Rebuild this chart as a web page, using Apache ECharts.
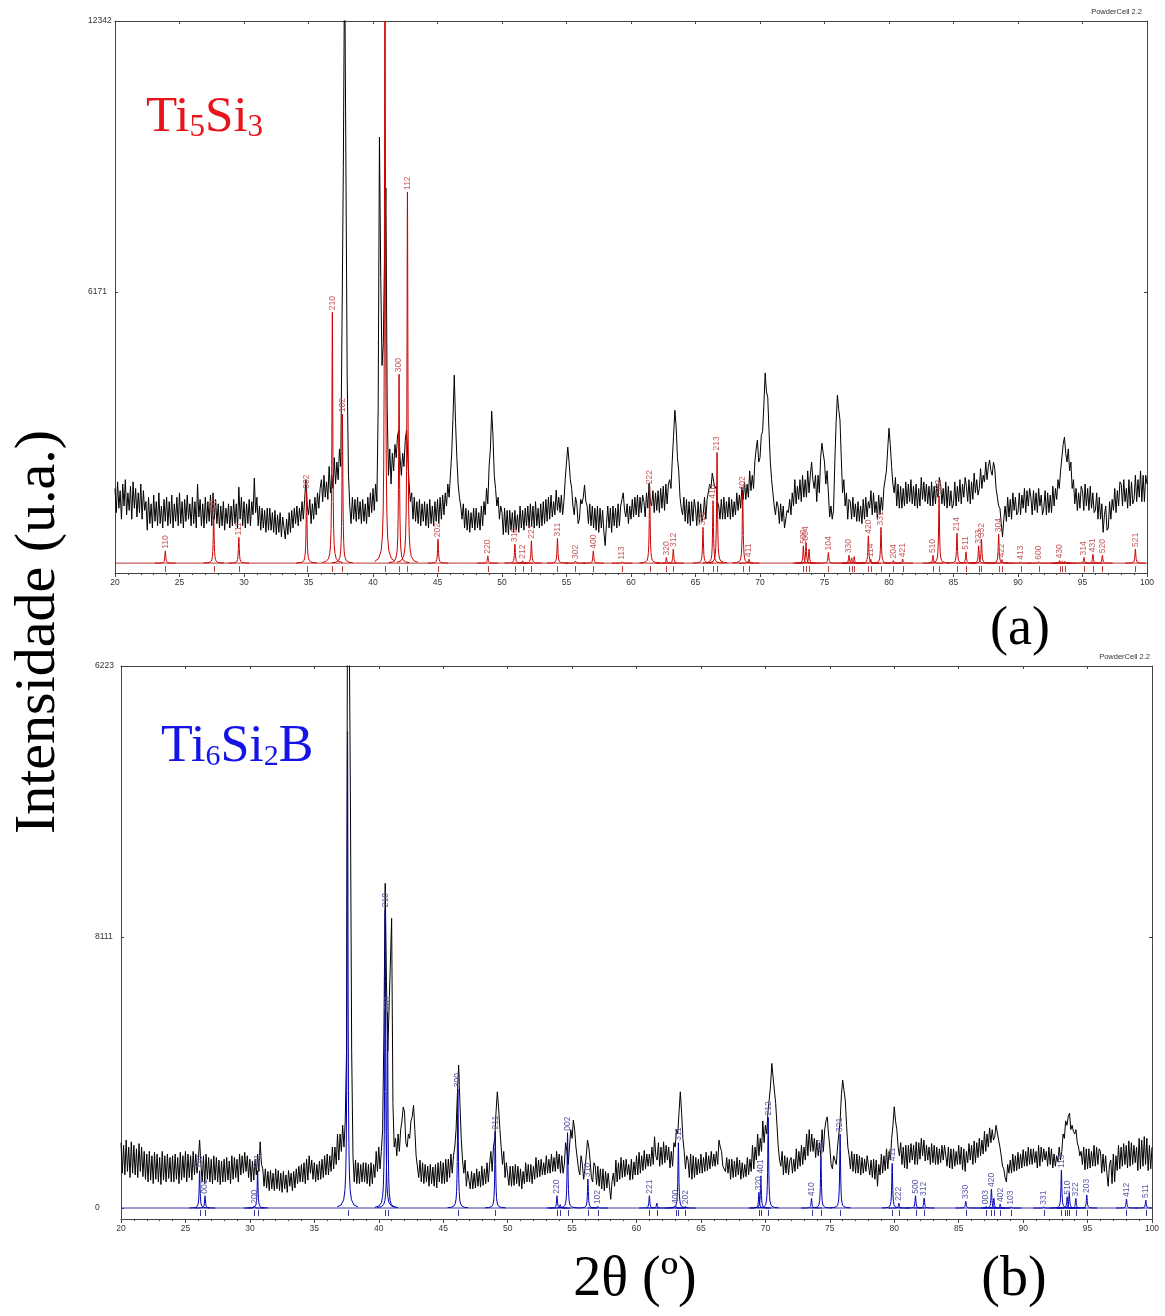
<!DOCTYPE html>
<html><head><meta charset="utf-8">
<script src="https://cdn.jsdelivr.net/npm/echarts@6/dist/echarts.min.js"></script>
<style>html,body{margin:0;padding:0;background:#fff}#c{width:1165px;height:1316px}</style>
</head><body><div id="c"></div>
<script>
// 2-theta sampling grid of the measured patterns
const xStart = 20, xStep = 0.1;

// (a) measured pattern, Ti5Si3 sample (counts), 20.0 .. 100.0 step 0.1
const expA = [
1700,1150,1850,1250,1650,1000,1800,1300,1900,1100,1600,1200,1750,1000,1850,1250,1700,1050,1600,1150,1800,1000,1650,1200,1400,750,1500,900,1350,800,1550,950,1400,850,1600,900,1300,800,1450,950,
1500,850,1400,900,1550,800,1350,950,1500,850,1600,900,1400,800,1450,950,1550,1000,1350,850,1500,900,1400,800,1800,1050,1450,850,1350,800,1500,900,1400,950,1550,850,1600,1000,1450,900,
1350,800,1300,850,1400,750,1250,900,1350,800,1300,850,1450,900,1350,800,1730,1000,1500,850,1400,800,1350,900,1450,850,1400,1100,1935,1150,1500,850,1300,750,1250,800,1200,700,1250,750,
1250,750,1150,700,1200,650,1100,700,1150,600,1050,800,550,1000,650,1150,700,1200,800,1250,900,1300,850,1250,950,1400,1000,1450,1900,1300,1100,1450,900,1350,1000,1500,1100,1600,1250,1700,
1900,1400,2000,1500,1850,1450,2200,1600,2000,1700,2400,1800,2300,1900,2600,2200,5500,9000,14000,14000,4200,2000,1300,900,1500,1000,1450,950,1500,1000,1400,900,1450,950,1350,900,1500,1050,1600,1150,
1700,1200,1800,1400,3500,9700,6500,4500,5000,7000,8540,3500,2000,2600,1800,2500,2100,2700,2400,2900,3030,2400,2000,2500,2200,2800,3030,2400,1800,1400,1600,1000,1500,950,1400,900,1450,850,1350,950,
1400,850,1350,800,1450,900,1300,850,1400,950,1450,900,1500,1000,1550,1100,1600,1300,1800,1500,2000,2500,3300,4280,3200,2400,1800,1500,1300,1000,1350,800,1250,750,1200,700,1150,800,1250,750,
1250,800,1150,750,1300,850,1400,1100,1700,1350,2200,2600,3460,2900,2000,1700,1300,1500,1000,1300,1150,650,1250,700,1200,650,1200,750,1150,700,1200,750,1100,700,1300,800,1200,750,1250,850,
1300,800,1350,850,1300,800,1400,850,1250,800,1350,850,1400,900,1450,950,1500,1000,1550,1050,1400,1100,1660,1200,1500,1150,1550,1100,1400,1900,2300,2640,2300,1900,1700,1300,1100,1500,1350,900,
1000,1450,1350,1500,1780,1400,1300,900,1350,850,1300,800,1250,750,1300,700,1250,800,1200,700,400,900,1300,800,1250,700,1300,850,1250,800,1350,850,1300,1450,1600,1200,1050,1350,900,1300,
1000,1450,1050,1500,1100,1550,1050,1500,1150,1550,1400,1050,1600,1250,1820,1400,1300,1650,1150,1600,1200,1650,1150,1700,1250,1750,1200,1800,1350,1800,1900,1700,2345,2900,3480,3100,2400,2100,1500,1250,
1100,1500,950,1450,900,1400,850,1400,950,1450,1250,850,1400,900,1350,950,1100,1500,1000,1450,1450,1800,1700,2050,2050,1700,1750,1400,1300,1000,1450,1000,1500,1000,1400,1050,1500,1000,1450,1050,
1400,1100,1600,1200,1550,1250,1730,1450,1850,1450,1800,1500,2100,1650,2000,1700,2300,2600,2800,2300,2400,2900,3000,3600,4330,3900,3780,3000,2300,1900,1600,1300,1100,1400,1300,900,1350,950,1300,800,
800,1200,1150,1450,1100,1600,1300,1900,1350,1750,1450,1900,1400,2000,1500,1900,1500,2100,1600,2000,2300,1900,1700,2000,1400,2000,1600,2400,2730,2500,2300,1800,2100,1600,1050,1300,1000,1200,2300,3200,
3825,3500,3260,2400,1600,1900,1300,1600,1000,1450,1400,1000,1500,1050,1350,950,1400,950,1300,900,1450,1000,1500,1050,1400,1250,1650,1100,1600,1150,1400,1000,1550,1100,1500,1200,1700,1900,2100,2600,
3070,2700,2200,1800,1600,1950,1300,1800,1250,1750,1250,1700,1300,1850,1350,1800,1400,1900,1350,1750,1300,1800,1250,1700,1300,1950,1450,1850,1400,1800,1350,1750,1300,1850,1300,1750,1350,1800,1500,1950,
1800,1350,1700,1300,1850,1250,1750,1300,1650,1250,1350,1850,1300,1750,1400,1900,1350,1800,1500,1950,1750,1400,1900,1350,1850,1450,2050,1600,1900,1550,1700,2150,1700,2000,1850,2300,1900,2200,2345,2100,
2000,2300,2150,1700,1500,1300,1250,900,600,1000,1300,950,1500,1050,1450,1000,1600,1200,1500,1100,1150,1600,1100,1550,1250,1700,1150,1650,1300,1700,1500,1100,1650,1200,1600,1150,1700,1300,1550,1100,
1250,1650,1100,1600,1150,1550,1150,1750,1300,1700,1450,1900,1700,2100,2400,2700,2870,2500,2300,2600,2100,2300,1700,1900,1350,1700,1200,1600,1250,1750,1650,1200,1800,1300,1700,1200,1750,1250,1600,1150,
1200,1600,1000,1500,1000,1350,700,1100,1300,750,800,1400,1000,1450,1200,1700,1150,1650,1300,1850,1800,1300,1900,1400,1700,1250,1900,1300,1850,1350,1450,2000,1400,1900,1500,2100,1400,2000,1400,2000,
1800
];

// (b) measured pattern, Ti6Si2B sample (counts), 20.0 .. 100.0 step 0.1
const expB = [
750,400,720,380,780,420,700,350,760,400,720,380,680,350,740,420,700,360,650,330,620,300,650,320,600,280,640,330,620,300,580,270,650,320,600,300,620,340,580,300,
600,300,620,330,580,280,640,320,600,350,650,300,620,350,600,320,650,380,620,400,560,780,500,300,600,280,620,330,580,300,560,280,600,320,580,300,550,270,540,300,
560,300,580,320,540,280,600,330,580,350,560,300,620,380,600,400,640,420,600,350,560,300,540,320,560,380,620,420,760,500,450,250,450,230,420,200,430,220,400,200,
450,220,430,200,400,180,420,220,380,180,430,250,400,200,420,230,450,280,480,300,500,300,520,280,560,320,600,400,550,330,520,300,500,320,540,330,560,350,600,380,
620,380,600,420,700,450,700,500,850,550,850,650,950,700,1000,1800,9000,9000,4740,1800,600,300,550,280,520,280,500,300,520,300,520,280,500,250,520,280,500,350,650,420,
700,450,650,900,2000,3728,2600,1800,1800,2800,3326,1200,700,800,600,850,650,900,1000,1160,1100,750,700,850,800,1000,1050,1180,900,600,600,350,550,300,520,280,500,300,480,250,
500,280,470,250,500,230,520,300,540,280,520,280,560,300,560,350,620,400,600,700,900,1300,1640,1200,800,550,400,550,250,420,430,220,420,220,400,230,450,250,420,240,
480,260,450,280,520,300,500,650,420,700,800,1100,1334,1150,900,700,500,650,350,520,500,260,480,250,480,260,500,280,480,250,450,220,420,280,520,300,500,300,500,280,
480,330,580,350,550,360,560,380,520,380,600,400,560,400,620,420,580,420,650,450,620,400,600,400,500,750,650,500,700,900,800,1010,900,700,700,450,380,600,500,330,
450,600,780,700,550,350,300,520,480,270,480,250,450,220,450,200,420,230,400,250,100,300,400,250,550,300,520,330,580,350,550,360,560,380,500,320,560,330,530,380,
600,380,640,400,600,430,660,450,620,480,620,480,700,500,818,600,550,750,480,700,500,760,520,720,550,700,460,650,480,750,700,900,850,1100,1334,1100,800,650,450,600,
550,350,620,330,600,350,580,380,560,400,620,400,580,420,640,430,600,450,650,480,620,480,650,500,780,700,650,480,500,420,580,400,560,330,560,350,540,360,580,380,
550,330,520,350,500,360,580,380,560,420,720,450,700,550,850,600,800,650,1000,750,950,850,1100,1250,1400,1660,1500,1506,1200,950,700,550,480,650,380,600,400,580,380,550,
580,400,560,420,680,450,650,480,720,500,700,550,850,600,900,650,850,650,800,580,780,600,750,600,900,650,900,1000,1047,850,700,500,450,600,550,500,700,850,1000,1300,
1468,1350,1239,950,700,600,450,650,420,620,400,620,400,600,380,580,400,560,420,600,580,380,550,350,560,330,550,250,500,380,620,400,600,430,680,450,650,550,800,950,
1162,1000,900,700,600,750,500,700,460,720,450,720,520,740,550,720,500,760,500,750,560,800,600,780,540,720,550,700,500,740,520,720,500,700,500,680,520,720,550,720,
700,480,700,460,680,450,680,480,650,500,720,500,700,440,680,420,650,520,740,550,720,500,770,520,750,580,800,600,780,620,880,650,850,700,920,750,900,780,820,950,
950,780,700,600,480,450,350,300,500,400,550,400,620,420,600,430,640,450,620,460,670,480,650,480,700,500,680,500,680,520,650,460,720,480,700,530,680,550,650,480,
700,500,680,460,620,480,600,530,700,550,650,850,800,1000,950,1050,1090,900,950,880,850,900,750,700,600,650,500,700,440,680,450,680,460,650,480,720,480,700,500,680,
650,400,620,420,600,400,250,500,550,280,620,300,600,430,720,450,700,480,740,500,720,460,770,480,750,500,720,520,700,430,800,450,780,480,820,500,800,430,720,450,
700
];

// calculated Ti5Si3 reflections
const peakPosA = [23.9,27.65,29.6,34.85,36.85,37.63,40.93,42.02,42.67,45.04,48.9,51.0,51.6,52.28,54.3,55.69,57.08,59.3,61.45,62.74,63.28,65.58,66.36,66.67,68.66,69.15,73.36,73.57,73.8,75.3,76.9,77.1,77.3,78.4,78.58,79.38,80.34,81.06,83.41,83.88,85.27,85.97,86.95,87.17,88.5,88.76,90.2,91.6,93.22,93.42,93.62,95.12,95.81,96.54,99.1];
const peakIntA = [280,1080,585,1650,5710,3390,16000,4300,8450,546,167,433,53,508,562,50,280,30,1750,130,320,813,1420,2520,1610,90,395,470,320,243,182,120,150,622,90,813,60,90,182,1530,683,258,395,546,660,80,30,30,60,40,40,130,200,180,320];
const hklA = ["110","200","111","002","210","102","211","300","112","202","220","310","212","221","311","302","400","113","222","320","312","321","410","213","402","411","500","004","","104","330","","","420","114","331","204","421","510","502","214","511","323","332","304","422","413","600","430","","","314","431","520","521"];

// calculated Ti6Si2B reflections
const peakPosB = [26.1,26.52,30.34,30.6,37.58,40.5,40.68,46.14,49.04,53.83,54.08,54.65,56.23,57.0,61.0,61.58,63.03,63.25,63.8,69.5,69.65,70.22,73.58,74.31,75.8,79.84,80.36,81.65,82.32,85.55,87.13,87.54,87.73,88.22,89.07,91.6,92.97,93.28,93.42,93.58,94.09,94.94,98.02,99.52];
const peakIntB = [428,141,25,428,5470,3430,2250,1365,880,141,40,865,333,20,141,57,25,750,20,180,370,1040,111,600,850,513,57,141,115,80,20,218,111,46,15,15,436,15,130,180,110,150,103,92];
const hklB = ["110","001","200","101","","210","201","300","211","220","","002","310","102","221","","400","311","202","320","401","212","410","302","321","411","222","500","312","330","003","420","","402","103","331","113","","510","","322","203","412","511"];

// axis ticks
const yTicksA = [6171, 12342];
const yTickTextA = ["6171", "12342"];
const yTicksB = [0, 3111.5, 6223];
const yTickTextB = ["0", "8111", "6223"];
const yRangeA = [-225, 12342];
const yRangeB = [-126, 6223];

function toXY(arr) { return arr.map((v, i) => [+(xStart + xStep * i).toFixed(2), v]); }
function peakData(pos, ints) { return pos.map((p, i) => [p, ints[i]]); }

const OFFS = [-0.8,-0.5,-0.3,-0.2,-0.14,-0.1,-0.07,-0.05,-0.035,-0.02,-0.01,0,0.01,0.02,0.035,0.05,0.07,0.1,0.14,0.2,0.3,0.5,0.8];
function peakRender(color, tickColor, t0, t1) {
  return function (params, api) {
    const p = api.value(0), h = api.value(1);
    const cs = params.coordSys;
    const g = 0.04;
    const pts = OFFS.map(o => api.coord([p + o, h / (1 + (o / g) * (o / g))]));
    const base = api.coord([p, 0]);
    const bx = Math.round(base[0]) + 0.5;
    return {
      type: 'group',
      children: [
        { type: 'polyline', shape: { points: pts },
          style: { stroke: color, lineWidth: 1, fill: null },
          clipPath: { type: 'rect', shape: { x: cs.x, y: cs.y, width: cs.width, height: cs.height } } },
        { type: 'line', shape: { x1: bx, y1: base[1] + t0, x2: bx, y2: base[1] + t1 },
          style: { stroke: tickColor, lineWidth: 1 } }
      ]
    };
  };
}
function labelRender(labels, color, ymax) {
  return function (params, api) {
    const txt = labels[params.dataIndex];
    const p = api.value(0), h = api.value(1);
    if (!txt || h >= ymax * 0.97) return null;
    const pt = api.coord([p, h]);
    return { type: 'text', x: pt[0], y: pt[1] - 2, rotation: Math.PI / 2,
      style: { text: txt, fill: color, font: '8.5px "Liberation Sans"', align: 'left', verticalAlign: 'middle' } };
  };
}

const axisCol = '#444';
function xAxes(grid) {
  return [
    { type: 'value', gridIndex: grid, position: 'bottom', min: 20, max: 100, interval: 5,
      axisLine: { show: true, onZero: false, lineStyle: { color: axisCol, width: 1 } },
      axisTick: { show: true, inside: false, length: 4, lineStyle: { color: axisCol } },
      minorTick: { show: true, splitNumber: 5, length: 2, lineStyle: { color: axisCol } },
      axisLabel: { show: true, fontSize: 8.5, fontFamily: 'Liberation Sans', color: '#333', margin: 5, showMinLabel: true, showMaxLabel: true },
      splitLine: { show: false }, minorSplitLine: { show: false } },
    { type: 'value', gridIndex: grid, position: 'top', min: 20, max: 100, interval: 5,
      axisLine: { show: true, onZero: false, lineStyle: { color: axisCol, width: 1 } },
      axisTick: { show: true, inside: true, length: 3, lineStyle: { color: axisCol } },
      axisLabel: { show: false }, splitLine: { show: false } }
  ];
}
function yAxes(grid, range, ticks, texts, margin) {
  return [
    { type: 'value', gridIndex: grid, position: 'left', min: range[0], max: range[1],
      axisLine: { show: true, onZero: false, lineStyle: { color: axisCol, width: 1 } },
      axisTick: { show: true, inside: true, length: 3, customValues: ticks, lineStyle: { color: axisCol } },
      axisLabel: { show: true, customValues: ticks, align: 'left', margin: margin,
        fontSize: 8.5, fontFamily: 'Liberation Sans', color: '#333',
        formatter: v => { const i = ticks.findIndex(t => Math.abs(t - v) < 1); return i >= 0 ? texts[i] : ''; } },
      splitLine: { show: false } },
    { type: 'value', gridIndex: grid, position: 'right', min: range[0], max: range[1],
      axisLine: { show: true, onZero: false, lineStyle: { color: axisCol, width: 1 } },
      axisTick: { show: true, inside: true, length: 3, customValues: [ticks[ticks.length - 2]], lineStyle: { color: axisCol } },
      axisLabel: { show: false }, splitLine: { show: false } }
  ];
}

const mctx = document.createElement('canvas').getContext('2d');
function formula(parts, x0, baseline, color) {
  const els = [];
  let x = x0;
  parts.forEach(pt => {
    const font = pt.size + 'px "Liberation Serif"';
    mctx.font = font;
    const w = mctx.measureText(pt.t).width;
    els.push({ type: 'text', x: x, y: baseline + (pt.dy || 0) - 0.3375 * pt.size,
      style: { text: pt.t, font: font, fill: color, align: 'left', verticalAlign: 'middle' }, z: 100 });
    x += w;
  });
  return els;
}

const redPeak = '#cc0000', redLab = '#c85a5a', redBase = '#b83a3a';
const bluePeak = '#0000b4', blueLab = '#5a5aa8', blueBase = '#3a3a9c';

const chart = echarts.init(document.getElementById('c'), null, { renderer: 'canvas' });
const option = {
  animation: false,
  backgroundColor: '#ffffff',
  grid: [
    { left: 115, top: 21, width: 1032, height: 552, outerBoundsMode: 'none' },
    { left: 121, top: 666, width: 1031, height: 553, outerBoundsMode: 'none' }
  ],
  xAxis: [...xAxes(0), ...xAxes(1)],
  yAxis: [...yAxes(0, yRangeA, yTicksA, yTickTextA, 27), ...yAxes(1, yRangeB, yTicksB, yTickTextB, 26)],
  series: [
    { type: 'line', xAxisIndex: 0, yAxisIndex: 0, data: toXY(expA), showSymbol: false, symbol: 'none',
      lineStyle: { color: '#000', width: 1 }, clip: true, z: 2 },
    { type: 'line', xAxisIndex: 0, yAxisIndex: 0, data: [[20, 0], [100, 0]], showSymbol: false, symbol: 'none',
      lineStyle: { color: redBase, width: 1 }, z: 3 },
    { type: 'custom', xAxisIndex: 0, yAxisIndex: 0, data: peakData(peakPosA, peakIntA),
      renderItem: peakRender(redPeak, redBase, 3, 9), z: 4 },
    { type: 'custom', xAxisIndex: 0, yAxisIndex: 0, data: peakData(peakPosA, peakIntA),
      renderItem: labelRender(hklA, redLab, yRangeA[1]), z: 5 },

    { type: 'line', xAxisIndex: 2, yAxisIndex: 2, data: toXY(expB), showSymbol: false, symbol: 'none',
      lineStyle: { color: '#000', width: 1 }, clip: true, z: 2 },
    { type: 'line', xAxisIndex: 2, yAxisIndex: 2, data: [[20, 0], [100, 0]], showSymbol: false, symbol: 'none',
      lineStyle: { color: blueBase, width: 1 }, z: 3 },
    { type: 'custom', xAxisIndex: 2, yAxisIndex: 2, data: peakData(peakPosB, peakIntB),
      renderItem: peakRender(bluePeak, blueBase, 2, 8), z: 4 },
    { type: 'custom', xAxisIndex: 2, yAxisIndex: 2, data: peakData(peakPosB, peakIntB),
      renderItem: labelRender(hklB, blueLab, yRangeB[1]), z: 5 }
  ],
  graphic: [
    { type: 'text', x: 1142, y: 12, style: { text: 'PowderCell 2.2', font: '7.5px "Liberation Sans"', fill: '#333', align: 'right', verticalAlign: 'middle' } },
    { type: 'text', x: 1150, y: 657, style: { text: 'PowderCell 2.2', font: '7.5px "Liberation Sans"', fill: '#333', align: 'right', verticalAlign: 'middle' } },
    ...formula([{ t: 'Ti', size: 51 }, { t: '5', size: 31, dy: 3 }, { t: 'Si', size: 51 }, { t: '3', size: 31, dy: 3 }], 146, 135, '#e8141c'),
    ...formula([{ t: 'Ti', size: 52 }, { t: '6', size: 30, dy: 2 }, { t: 'Si', size: 52 }, { t: '2', size: 30, dy: 2 }, { t: 'B', size: 52 }], 161, 765, '#1414e6'),
    { type: 'text', x: 1020, y: 630, style: { text: '(a)', font: '54px "Liberation Serif"', fill: '#000', align: 'center', verticalAlign: 'middle' } },
    { type: 'text', x: 1014, y: 1280, style: { text: '(b)', font: '56px "Liberation Serif"', fill: '#000', align: 'center', verticalAlign: 'middle' } },
    { type: 'text', x: 635, y: 1280, style: { text: '2θ (º)', font: '56px "Liberation Serif"', fill: '#000', align: 'center', verticalAlign: 'middle' } },
    { type: 'text', x: 39, y: 632, rotation: Math.PI / 2, style: { text: 'Intensidade (u.a.)', font: '58px "Liberation Serif"', fill: '#000', align: 'center', verticalAlign: 'middle' } }
  ]
};
chart.setOption(option);
</script>
</body></html>
